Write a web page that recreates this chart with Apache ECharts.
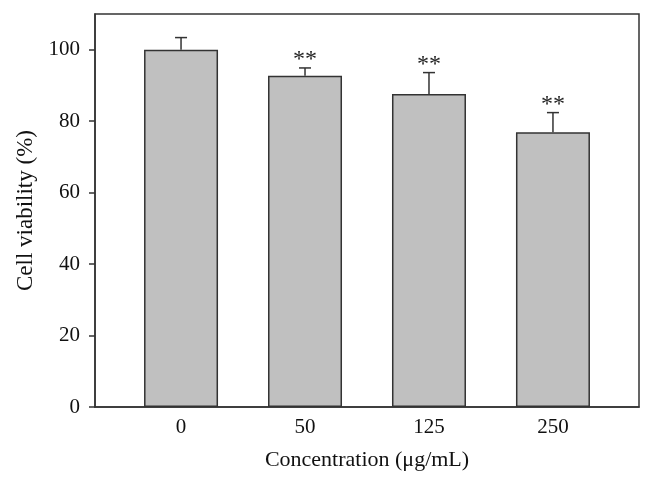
<!DOCTYPE html>
<html>
<head>
<meta charset="utf-8">
<script src="https://cdn.jsdelivr.net/npm/echarts@6/dist/echarts.min.js"></script>
<style>html,body{margin:0;padding:0;background:#fff}#c{width:654px;height:483px}</style>
</head>
<body>
<div id="c"></div>
<script>
var categories = ['0', '50', '125', '250'];
var viability = [100, 92.7, 87.6, 76.9];
var errors = [3.4, 2.2, 6.0, 5.5];
var significance = ['', '**', '**', '**'];
var yTicks = [0, 20, 40, 60, 80, 100];

var FONT = '"Liberation Serif", "DejaVu Serif", serif';
var INK = '#333';

var chart = echarts.init(document.getElementById('c'));
var barData = viability.map(function (v, i) { return [i, v]; });
var errData = viability.map(function (v, i) { return [i, v, errors[i]]; });

chart.setOption({
  animation: false,
  backgroundColor: '#fff',
  grid: { left: 95, right: 15, top: 14, bottom: 76, show: true, borderColor: INK, borderWidth: 1.5, backgroundColor: 'transparent' },
  xAxis: {
    type: 'value', min: -0.694, max: 3.694,
    name: 'Concentration (\u03bcg/mL)', nameLocation: 'middle', nameGap: 42,
    nameTextStyle: { fontFamily: FONT, fontSize: 22, color: '#111' },
    axisLine: { show: true, onZero: false, lineStyle: { color: INK, width: 1.5 } },
    axisTick: { show: false },
    splitLine: { show: false },
    axisLabel: { customValues: [0, 1, 2, 3], formatter: function (v) { return categories[Math.round(v)]; }, fontFamily: FONT, fontSize: 21, color: '#111', margin: 10 }
  },
  yAxis: {
    type: 'value', min: 0, max: 110,
    name: 'Cell viability (%)', nameLocation: 'middle', nameGap: 56,
    nameTextStyle: { fontFamily: FONT, fontSize: 23, color: '#111' },
    axisLine: { show: true, onZero: false, lineStyle: { color: INK, width: 1.5 } },
    axisTick: { show: true, customValues: yTicks, length: 6, lineStyle: { color: INK, width: 1.5 } },
    splitLine: { show: false },
    axisLabel: { customValues: yTicks, fontFamily: FONT, fontSize: 21, color: '#111', margin: 15 }
  },
  series: [
    {
      type: 'bar', data: barData, barWidth: 74,
      itemStyle: { color: '#c0c0c0', borderColor: INK, borderWidth: 1.5 }
    },
    {
      type: 'custom', data: errData, z: 5,
      renderItem: function (params, api) {
        var i = api.value(0), v = api.value(1), e = api.value(2);
        var top = api.coord([i, v]);
        var cap = api.coord([i, v + e]);
        var hw = 6;
        var children = [
          { type: 'line', shape: { x1: top[0], y1: top[1], x2: cap[0], y2: cap[1] }, style: { stroke: INK, lineWidth: 1.5 } },
          { type: 'line', shape: { x1: cap[0] - hw, y1: cap[1], x2: cap[0] + hw, y2: cap[1] }, style: { stroke: INK, lineWidth: 1.5 } }
        ];
        var s = significance[params.dataIndex];
        if (s) {
          children.push({ type: 'text', style: { text: s, x: cap[0], y: cap[1] - 8, align: 'center', verticalAlign: 'middle', fontFamily: FONT, fontSize: 24, fill: '#222' } });
        }
        return { type: 'group', children: children };
      }
    }
  ]
});
</script>
</body>
</html>
